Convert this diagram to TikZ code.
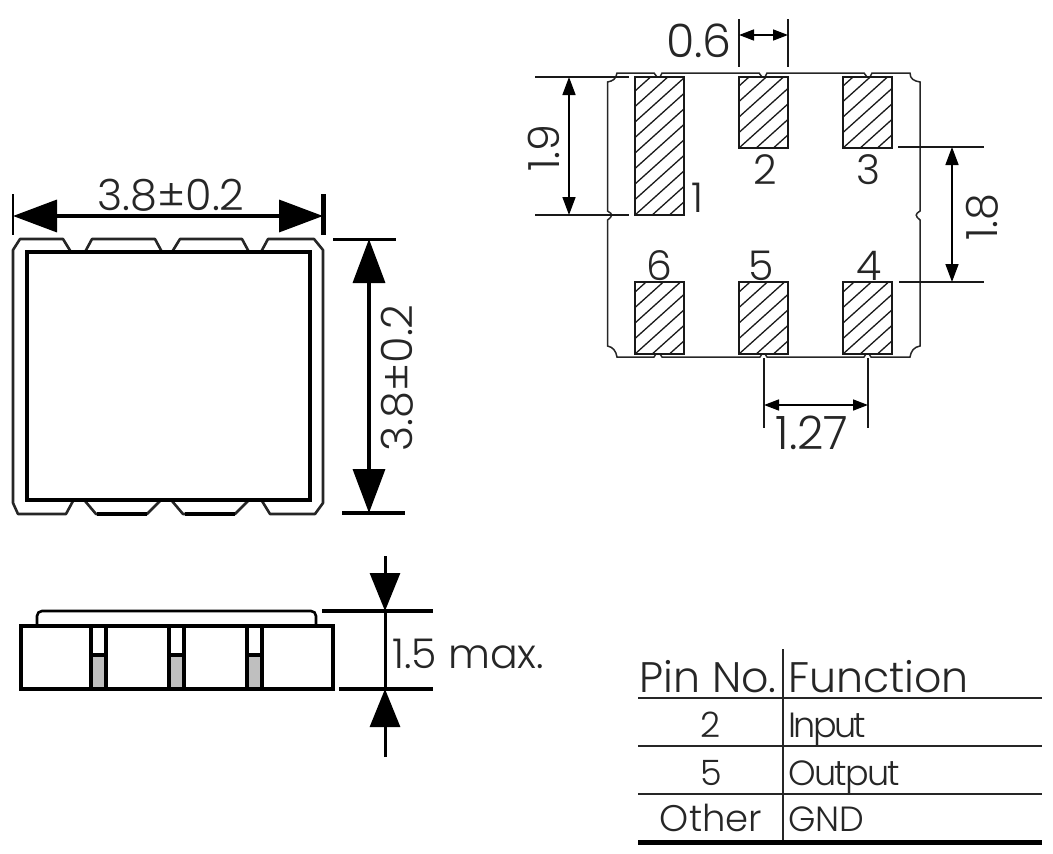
\documentclass[tikz,border=0pt]{standalone}
\usepackage{fontspec}
\setmainfont{Poppins Light}
\usetikzlibrary{arrows.meta}

\tikzset{
  outline/.style = {line width=2.6pt, line join=round, draw=black!85},
  heavy/.style = {line width=4pt},
  extline/.style = {line width=1.3pt, draw=black!90},
  dimbig/.style = {line width=3.6pt, {Triangle[length=44pt,width=32pt]}-{Triangle[length=44pt,width=32pt]}},
  dimsmall/.style = {line width=1.6pt, {Triangle[length=18pt,width=13pt]}-{Triangle[length=18pt,width=13pt]}},
  dimtiny/.style = {line width=1.6pt, {Triangle[length=15pt,width=11pt]}-{Triangle[length=15pt,width=11pt]}},
  hatchline/.style = {line width=1.3pt, draw=black!90},
  pad/.style = {draw=black!90, line width=1.9pt, minimum width=49pt, inner sep=0pt, outer sep=0pt, fill=white,
    path picture={
      \foreach \i in {-3,...,9}
        \draw[hatchline] ([yshift=\i*15.5pt]path picture bounding box.south west) -- +(90pt,81pt);
    }},
  txt/.style = {font=\fontsize{43}{43}\selectfont, text=black!85, inner sep=0pt},
  txtwide/.style = {font=\fontsize{46}{46}\selectfont, text=black!85, inner sep=0pt},
  pinnum/.style = {font=\fontsize{41}{41}\selectfont, text=black!85, inner sep=0pt},
  head/.style = {font=\fontsize{42.7}{43}\selectfont, text=black!85, inner sep=0pt, anchor=base},
  cell/.style = {font=\fontsize{35}{35}\selectfont, text=black!85, inner sep=0pt, anchor=base},
  rowline/.style = {line width=1.2pt, draw=black!85}
}

\begin{document}
\begin{tikzpicture}[x=1pt, y=-1pt]
\useasboundingbox (0,0) rectangle (1053,854);

% top view
\draw[outline] (85,252) -- (92,239) -- (155,239) -- (162,252)
  (172,252) -- (180,239) -- (242,239) -- (249,252) (261,252) -- (268,239) -- (314,239) -- (323,250)
  -- (323,503) -- (315,514) -- (270,514) -- (262,501) (248,501) -- (235,514) -- (183,514) -- (172,501)
  (160,501) -- (147,514) -- (96,514) -- (85,501) (73,501) -- (66,514) -- (18,514) -- (13,503)
  -- (13,250) -- (20,239) -- (63,239) -- (71,252);
\draw[heavy] (27,252) rectangle (310,500);
\draw[heavy] (97,514) -- (147,514) (185,514) -- (235,514);

\coordinate (wl) at (13,216);
\coordinate (wr) at (323,216);
\coordinate (hu) at (369,239);
\coordinate (hd) at (369,513);
\draw[line width=2.8pt] (13,194) -- (13,235);
\draw[line width=5pt] (323,194) -- (323,235);
\draw[line width=3pt] (333,239) -- (396,239);
\draw[line width=3.4pt] (342,513) -- (405,513);
\draw[dimbig] (wl) -- (wr);
\draw[dimbig] (hu) -- (hd);
\node[txt] (width) at (171,195) {3.8±0.2};
\node[txt, rotate=90] (height) at (397,378) {3.8±0.2};

% side view
\draw[line width=2.6pt, rounded corners=5pt] (37,626) -- (37,611) -- (316,611) -- (316,626);
\foreach \x in {91,169,247} {
  \fill[black!25] (\x,655) rectangle (\x+15,688);
  \draw[heavy] (\x,626) -- (\x,689) (\x+15,626) -- (\x+15,689) (\x,655) -- (\x+15,655);
}
\draw[heavy] (21,626) rectangle (333,689);

\coordinate (tu) at (385,611);
\coordinate (td) at (385,689);
\coordinate (tua) at (385,556);
\coordinate (tda) at (385,757);
\draw[line width=3.4pt] (322,611) -- (433,611);
\draw[line width=3.4pt] (339,689) -- (433,689);
\draw[line width=3pt] (tu) -- (td);
\draw[line width=3pt, -{Triangle[length=38pt,width=30pt]}] (tua) -- (tu);
\draw[line width=3pt, -{Triangle[length=38pt,width=30pt]}] (tda) -- (td);
\node[txt, font=\fontsize{41}{41}\selectfont, anchor=base west] (thick) at (392,668) {1.5 max.};

% land pattern
\draw[line width=1.5pt, draw=black!85] (617,73)
  -- (654,73) -- (657,77) -- (660,77) -- (662,73)
  -- (759,73) -- (762,77) -- (765,77) -- (767,73)
  -- (864,73) -- (867,77) -- (870,77) -- (872,73)
  -- (910,73) .. controls (910,79) and (914,81) .. (920,82)
  -- (920,211) .. controls (915,214) and (915,216) .. (920,220)
  -- (920,346) .. controls (914,347) and (911,351) .. (910,357)
  -- (871,357) -- (869,354) -- (866,354) -- (864,357)
  -- (767,357) -- (765,354) -- (762,354) -- (760,357)
  -- (662,357) -- (660,354) -- (656,354) -- (654,357)
  -- (617,357) .. controls (616,351) and (613,347) .. (607.5,346)
  -- (607.5,220) .. controls (613,216) and (613,214) .. (607.5,211)
  -- (607.5,82) .. controls (613,81) and (616,79) .. (617,73) -- cycle;

\node[pad, minimum height=138pt] (pad1) at (659.5,146) {};
\node[pad, minimum height=71pt] (pad2) at (763.5,112.5) {};
\node[pad, minimum height=71pt] (pad3) at (867.5,112.5) {};
\node[pad, minimum height=72pt] (pad6) at (659.5,318) {};
\node[pad, minimum height=72pt] (pad5) at (763.5,318) {};
\node[pad, minimum height=72pt] (pad4) at (867.5,318) {};

\node[pinnum] (num1) at (697,198) {1};
\node[pinnum] (num2) at (765,170) {2};
\node[pinnum] (num3) at (868,170) {3};
\node[pinnum] (num6) at (659,266) {6};
\node[pinnum] (num5) at (761,266) {5};
\node[pinnum] (num4) at (869,266) {4};

\draw[extline] (739,19) -- (739,67);
\draw[extline] (788,19) -- (788,67);
\draw[extline] (535,77) -- (629,77);
\draw[extline] (535,215) -- (629,215);
\draw[extline] (898,147) -- (984,147);
\draw[extline] (899,282) -- (984,282);
\draw[extline] (764,358) -- (764,428);
\draw[extline] (868,358) -- (868,428);

\coordinate (pw1) at (739,35);
\coordinate (pw2) at (788,35);
\coordinate (ph1) at (569,77);
\coordinate (ph2) at (569,215);
\coordinate (py1) at (952,147);
\coordinate (py2) at (952,282);
\coordinate (px1) at (764,405);
\coordinate (px2) at (868,405);
\draw[dimtiny] (pw1) -- (pw2);
\draw[dimsmall] (ph1) -- (ph2);
\draw[dimsmall] (py1) -- (py2);
\draw[dimtiny] (px1) -- (px2);
\node[txtwide] (lblpw) at (699,41) {0.6};
\node[txt, rotate=90] (lblph) at (544,148) {1.9};
\node[txt, rotate=90] (lblpy) at (982,217) {1.8};
\node[txtwide] (lblpx) at (812,433) {1.27};

% pin table
\draw[rowline] (783,649) -- (783,842);
\foreach \y in {698,746,794}
  \draw[rowline] (638,\y) -- (1042,\y);
\draw[line width=5pt] (638,842.5) -- (1042,842.5);

\node[head] (hpin) at (708,692) {Pin No.};
\node[head, anchor=base west] (hfun) at (788,692) {Function};
\node[cell] (row2) at (711,737) {2};
\node[cell, anchor=base west] (rinput) at (788,737) {\addfontfeature{LetterSpace=-7.5}Input};
\node[cell] (row5) at (711,785) {5};
\node[cell, anchor=base west] (routput) at (788,785) {\addfontfeature{LetterSpace=-5}Output};
\node[cell, font=\fontsize{37}{37}\selectfont] (rowo) at (711,831) {Other};
\node[cell, anchor=base west] (rgnd) at (788,831) {GND};

\end{tikzpicture}
\end{document}
